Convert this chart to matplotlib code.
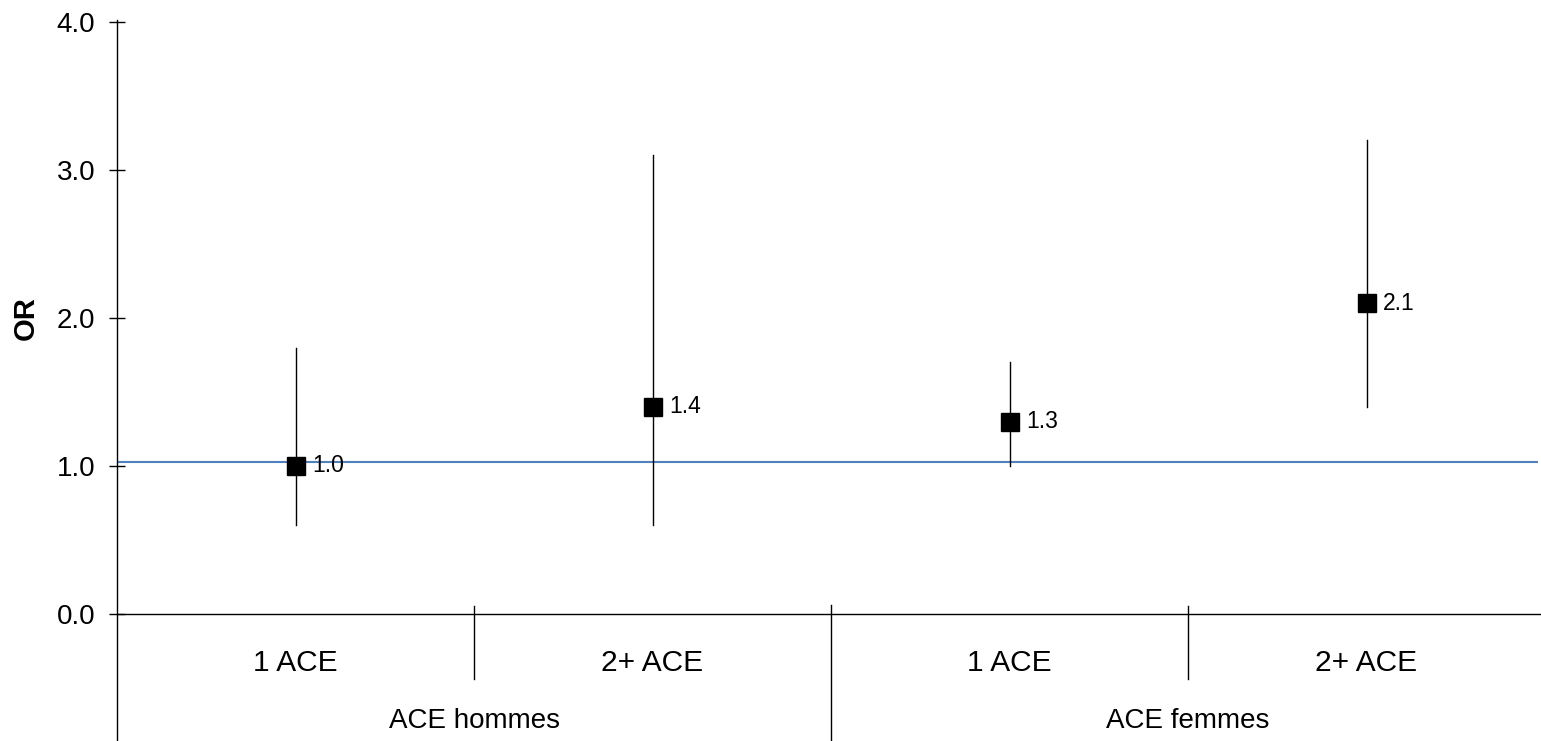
import matplotlib
matplotlib.use("Agg")
import matplotlib.pyplot as plt
from matplotlib.lines import Line2D
import matplotlib.transforms as mtransforms

plt.rcParams['font.family'] = ['Liberation Sans', 'DejaVu Sans']

# Data
sub_labels = ["1 ACE", "2+ ACE", "1 ACE", "2+ ACE"]
group_labels = ["ACE hommes", "ACE femmes"]
or_values = [1.0, 1.4, 1.3, 2.1]
ci_low = [0.6, 0.6, 1.0, 1.4]
ci_high = [1.8, 3.1, 1.7, 3.2]
ref_value = 1.03
yticks = [0.0, 1.0, 2.0, 3.0, 4.0]

W, H = 1541, 741
fig = plt.figure(figsize=(W / 100, H / 100), dpi=100)
ax = fig.add_axes([117 / W, 127 / H, 1428 / W, 592 / H])
ax.set_xlim(0, len(sub_labels))
ax.set_ylim(0, 4)

xs = [i + 0.5 for i in range(len(sub_labels))]

# reference line
ax.axhline(ref_value, xmin=0, xmax=(1537 - 117) / 1428, color="#4F81BD", lw=1.5, zorder=1)

# error bars
for x, lo, hi in zip(xs, ci_low, ci_high):
    ax.plot([x, x], [lo, hi], color="black", lw=1.0, zorder=2)

# markers
ax.plot(xs, or_values, linestyle="none", marker="s", markersize=13.5,
        color="black", zorder=3)

for x, v in zip(xs, or_values):
    ax.annotate(f"{v:.1f}", (x, v), xytext=(12, 0), textcoords="offset points",
                ha="left", va="center", fontsize=16.5)

# spines
for s in ["top", "right", "left"]:
    ax.spines[s].set_visible(False)
ax.spines["bottom"].set_linewidth(1.0)
ax.spines["bottom"].set_zorder(4)

# left axis line extending to bottom of the figure
trans_left = mtransforms.blended_transform_factory(ax.transData, fig.transFigure)
ax.add_line(Line2D([0, 0], [0, (741 - 20) / H], transform=trans_left,
                   color="black", lw=1.0, clip_on=False))

ax.set_yticks(yticks)
ax.set_yticklabels([f"{t:.1f}" for t in yticks], fontsize=20)
ax.tick_params(axis="y", direction="inout", length=11.5, width=1.0, pad=10)
ax.set_xticks([])

ax.set_ylabel("OR", fontsize=21, fontweight="bold", labelpad=12)

# separators and category labels
trans = mtransforms.blended_transform_factory(ax.transData, fig.transFigure)
for i in range(1, len(sub_labels)):
    if i % 2 == 0:
        ax.add_line(Line2D([i, i], [0, (741 - 605) / H], transform=trans,
                           color="black", lw=1.0, clip_on=False))
    else:
        ax.add_line(Line2D([i, i], [(741 - 679) / H, (741 - 606) / H], transform=trans,
                           color="black", lw=1.0, clip_on=False))

for x, lab in zip(xs, sub_labels):
    ax.text(x, (741 - 663) / H, lab, transform=trans, ha="center", va="center", fontsize=21.5)

for g, lab in enumerate(group_labels):
    ax.text(2 * g + 1, (741 - 721) / H, lab, transform=trans, ha="center", va="center", fontsize=20)

fig.savefig("out.png", dpi=100)
